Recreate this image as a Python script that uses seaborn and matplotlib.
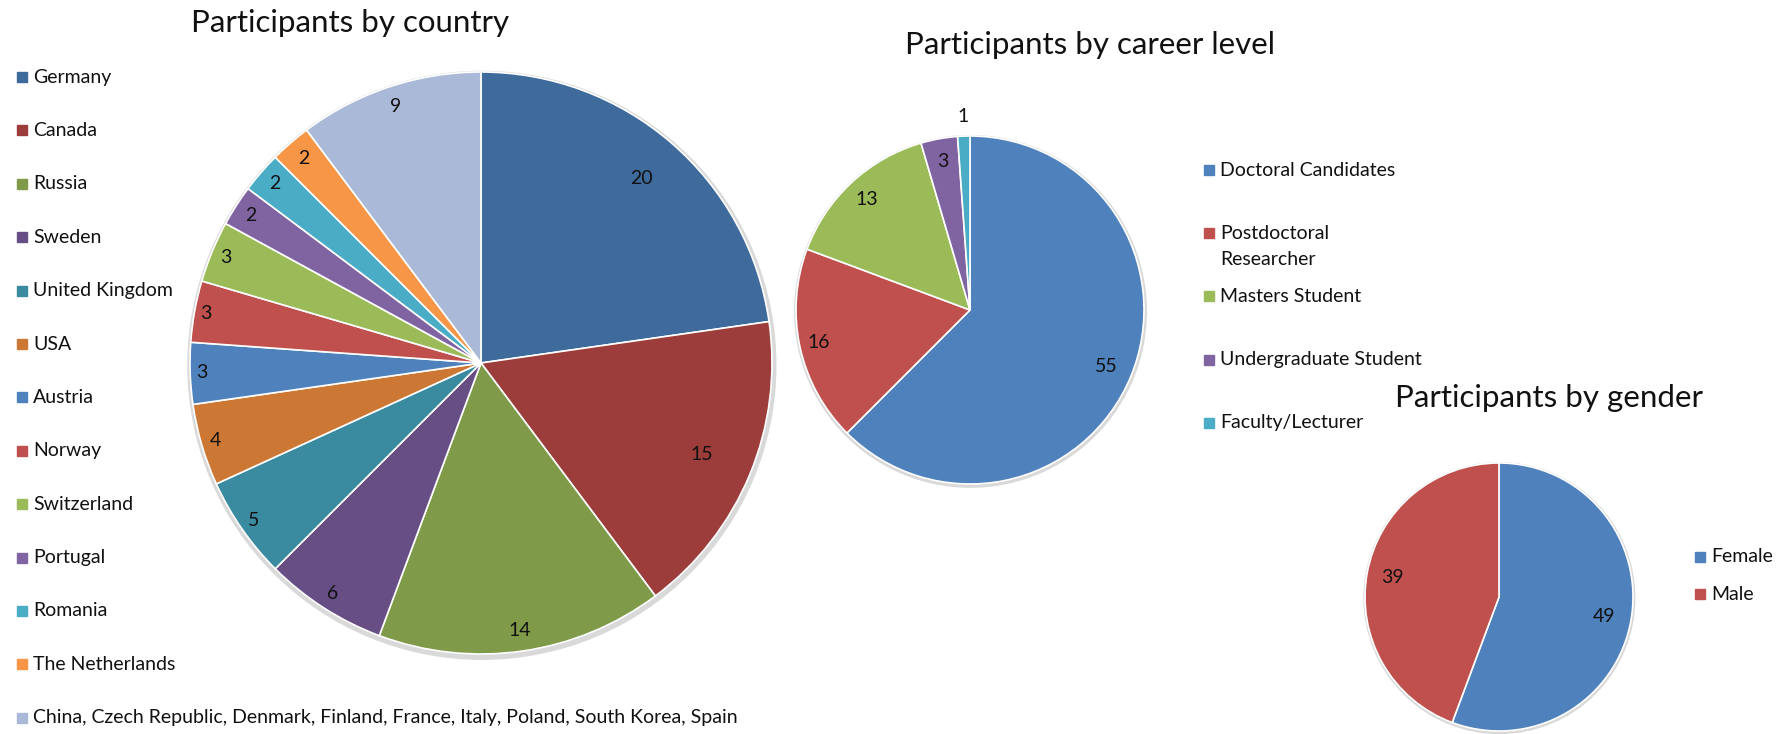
import numpy as np
import matplotlib
matplotlib.use("Agg")
import matplotlib.pyplot as plt
from matplotlib.patches import Circle, Rectangle
import seaborn as sns

# data
countries = ["Germany", "Canada", "Russia", "Sweden", "United Kingdom", "USA",
             "Austria", "Norway", "Switzerland", "Portugal", "Romania",
             "The Netherlands",
             "China, Czech Republic, Denmark, Finland, France, Italy, Poland, South Korea, Spain"]
country_counts = [20, 15, 14, 6, 5, 4, 3, 3, 3, 2, 2, 2, 9]
country_colors = ["#3F6A9C", "#9C3D3B", "#7F9A48", "#674F86", "#3A8AA0", "#CC7834",
                  "#4F81BD", "#C0504D", "#9BBB59", "#8064A2", "#4BACC6", "#F79646",
                  "#AAB9D7"]

careers = ["Doctoral Candidates", "Postdoctoral\nResearcher", "Masters Student",
           "Undergraduate Student", "Faculty/Lecturer"]
career_counts = [55, 16, 13, 3, 1]
career_colors = ["#4F81BD", "#C0504D", "#9BBB59", "#8064A2", "#4BACC6"]

genders = ["Female", "Male"]
gender_counts = [49, 39]
gender_colors = ["#4F81BD", "#C0504D"]

# label distances (fraction of radius), like Excel's "best fit"
country_label_r = [0.84, 0.82, 0.93, 0.94, 0.95, 0.95, 0.96, 0.96, 0.95, 0.94, 0.94, 0.93, 0.93]
career_label_r = [0.85, 0.89, 0.87, 0.87, 1.11]
gender_label_r = [0.80, 0.81]

sns.set_style("white")
plt.rcParams["font.family"] = ["Lato", "DejaVu Sans"]

W, H = 1777, 734
fig = plt.figure(figsize=(W / 100, H / 100), dpi=100)
TXT = "#111111"
LIM = 1.06
FS_LEG = 14
FS_LAB = 14
FS_TITLE = 22.5


def pie_axes(cx, cy, r):
    # axes placed by pixel centre / radius
    s = r * LIM
    return fig.add_axes([(cx - s) / W, 1 - (cy + s) / H, 2 * s / W, 2 * s / H])


def draw_pie(ax, counts, colors, label_r):
    ax.add_patch(Circle((0.003, -0.008), 1.01, color="#d9d9d9", zorder=0, clip_on=False))
    wedges, _ = ax.pie(counts, colors=colors, startangle=90, counterclock=False,
                       wedgeprops=dict(edgecolor="white", linewidth=1.2))
    for w, v, d in zip(wedges, counts, label_r):
        ang = np.deg2rad((w.theta1 + w.theta2) / 2)
        ax.text(d * np.cos(ang), d * np.sin(ang), str(v), ha="center", va="center",
                fontsize=FS_LAB, color=TXT)
    ax.set_xlim(-LIM, LIM)
    ax.set_ylim(-LIM, LIM)
    ax.set_aspect("equal")
    ax.axis("off")


def draw_legend(labels, colors, x_mark, y0, step, line_gap=26):
    for i, (lab, col) in enumerate(zip(labels, colors)):
        y = y0 + i * step
        fig.patches.append(Rectangle((x_mark / W, 1 - (y + 5) / H), 10 / W, 10 / H,
                                     transform=fig.transFigure, color=col))
        for k, line in enumerate(lab.split("\n")):
            fig.text((x_mark + 16) / W, 1 - (y + k * line_gap) / H, line,
                     ha="left", va="center", fontsize=FS_LEG, color=TXT)


ax1 = pie_axes(481, 363, 291)
draw_pie(ax1, country_counts, country_colors, country_label_r)
ax2 = pie_axes(970, 310, 174)
draw_pie(ax2, career_counts, career_colors, career_label_r)
ax3 = pie_axes(1499, 597, 134)
draw_pie(ax3, gender_counts, gender_colors, gender_label_r)

fig.text(350 / W, 1 - 23 / H, "Participants by country", ha="center", va="center",
         fontsize=FS_TITLE, color=TXT)
fig.text(1090 / W, 1 - 45 / H, "Participants by career level", ha="center", va="center",
         fontsize=FS_TITLE, color=TXT)
fig.text(1549 / W, 1 - 398 / H, "Participants by gender", ha="center", va="center",
         fontsize=FS_TITLE, color=TXT)

draw_legend(countries, country_colors, 17, 77, 53.4)
draw_legend(careers, career_colors, 1204, 170, 63.2)
draw_legend(genders, gender_colors, 1695, 557, 37)

fig.savefig("out.png", dpi=100, facecolor="white")
plt.close()
